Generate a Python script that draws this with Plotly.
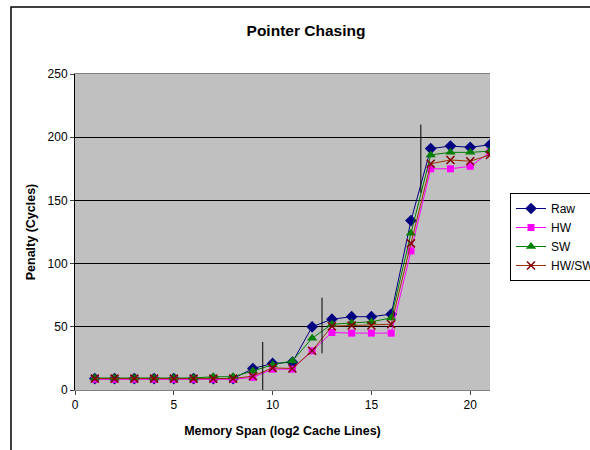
import plotly.graph_objects as go

span = list(range(1, 22))
raw = [9, 9, 9, 9, 9, 9, 9, 9, 17, 21, 22, 50, 56, 58, 58, 60, 134, 191, 193, 192, 194]
hw = [8.5, 8.5, 8.5, 8.5, 8.5, 8.5, 8.5, 8.5, 10, 16.5, 16.5, 31, 45.5, 45, 45, 45, 110, 175, 175, 177, 188]
sw = [9.5, 9.5, 9.5, 9.5, 9.5, 9.5, 10.5, 10.5, 15, 20, 23, 41, 52, 53, 54, 57, 124, 186, 188, 188, 189]
hwsw = [9, 9, 9, 9, 9, 9, 9, 9, 11, 17.5, 17, 31, 50.5, 51, 51, 52, 116, 179, 182, 181, 186]

# cache-boundary marker segments: (x, y_bottom, y_top)
boundaries = [(9.5, 0, 38), (12.5, 29, 73), (17.5, 156, 210)]

L, R, T, B = 75, 100, 74, 60
W, H = 590, 450
pw, ph = W - L - R, H - T - B

fig = go.Figure()
fig.add_trace(go.Scatter(x=span, y=raw, name="Raw", mode="lines+markers",
                         line=dict(color="#000080", width=1),
                         marker=dict(symbol="diamond", size=9, color="#000080")))
fig.add_trace(go.Scatter(x=span, y=hw, name="HW", mode="lines+markers",
                         line=dict(color="#FF00FF", width=1),
                         marker=dict(symbol="square", size=7, color="#FF00FF")))
fig.add_trace(go.Scatter(x=span, y=sw, name="SW", mode="lines+markers",
                         line=dict(color="#008000", width=1),
                         marker=dict(symbol="triangle-up", size=9, color="#008000")))
fig.add_trace(go.Scatter(x=span, y=hwsw, name="HW/SW", mode="lines+markers",
                         line=dict(color="#993300", width=1),
                         marker=dict(symbol="x-thin", size=8,
                                     line=dict(color="#800000", width=1.5))))

shapes = []
for bx, y0, y1 in boundaries:
    shapes.append(dict(type="line", xref="x", yref="y", x0=bx, x1=bx, y0=y0, y1=y1,
                       line=dict(color="black", width=1)))
# outer chart border
shapes.append(dict(type="rect", xref="paper", yref="paper",
                   x0=(11 - L) / pw, x1=(620 - L) / pw,
                   y0=(H - B - 480) / ph, y1=(H - B - 7) / ph,
                   line=dict(color="black", width=1.5), layer="below"))

fig.update_layout(
    width=W, height=H,
    margin=dict(l=L, r=R, t=T, b=B, autoexpand=False),
    paper_bgcolor="white", plot_bgcolor="#C0C0C0",
    font=dict(family="Liberation Sans, Arial", size=12, color="black"),
    title=dict(text="<b>Pointer Chasing</b>", x=306 / W, xanchor="center",
               y=1 - 31 / H, yanchor="middle", font=dict(size=15.5)),
    xaxis=dict(range=[0, 21], tickvals=[0, 5, 10, 15, 20], ticks="outside", ticklen=4,
               showgrid=False, zeroline=False, showline=True, linecolor="#808080",
               mirror=True, tickfont=dict(size=12),
               title=dict(text="<b>Memory Span (log2 Cache Lines)</b>",
                          font=dict(size=12.5), standoff=14)),
    yaxis=dict(range=[0, 250], tickvals=[0, 50, 100, 150, 200, 250], ticks="outside",
               ticklen=4, showgrid=True, gridcolor="black", gridwidth=1, zeroline=False,
               showline=True, linecolor="black", tickfont=dict(size=12),
               title=dict(text="<b>Penalty (Cycles)</b>", font=dict(size=12.5), standoff=9)),
    legend=dict(x=(510 - L) / pw, xanchor="left", y=(H - B - 193) / ph, yanchor="top",
                bordercolor="black", borderwidth=1, bgcolor="white",
                font=dict(size=12), tracegroupgap=0, itemwidth=30),
    shapes=shapes,
)

fig.write_html("out.html")
